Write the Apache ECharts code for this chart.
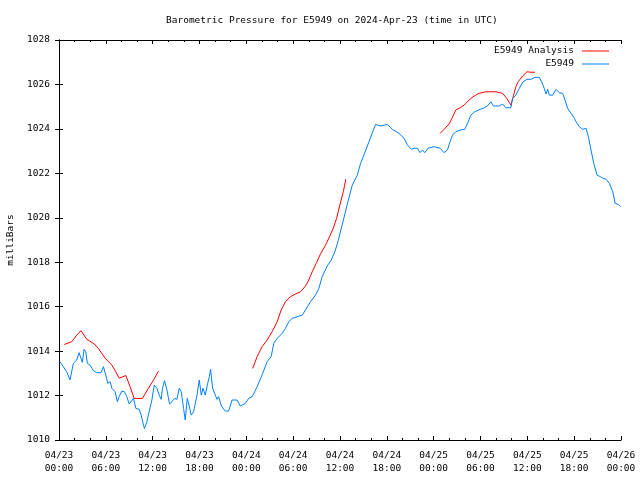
<!DOCTYPE html>
<html>
<head>
<meta charset="utf-8">
<script src="https://cdn.jsdelivr.net/npm/echarts@6/dist/echarts.min.js"></script>
<style>html,body{margin:0;padding:0;background:#fff}#c{width:640px;height:480px}</style>
</head>
<body>
<div id="c"></div>
<script>
// Hours since 2024-04-23 00:00 UTC
const blueHours = [0.13,0.55,0.99,1.41,1.84,2.27,2.57,2.79,2.99,3.21,3.43,3.63,3.98,4.40,4.84,5.39,5.69,5.99,6.25,6.55,6.77,7.19,7.48,7.70,8.05,8.38,8.69,8.99,9.24,9.54,9.85,10.27,10.53,10.82,10.95,11.26,11.55,11.90,12.20,12.54,12.84,13.09,13.26,13.52,13.83,14.16,14.47,14.80,15.11,15.40,15.66,15.96,16.17,16.43,16.69,16.94,17.24,17.46,17.68,17.97,18.23,18.45,18.74,19.00,19.26,19.42,19.68,20.03,20.24,20.45,20.80,21.31,21.73,22.17,22.81,23.23,23.88,24.30,24.74,25.07,25.38,26.02,26.66,27.18,27.51,27.95,28.59,29.01,29.44,29.87,30.51,31.16,31.58,32.22,32.86,33.29,33.72,34.36,34.88,35.34,35.73,36.16,36.59,37.01,37.57,38.22,38.64,39.15,39.71,40.14,40.56,41.21,42.07,42.71,43.56,44.20,44.63,45.15,45.48,45.92,46.25,46.56,46.86,47.28,48.05,48.82,49.33,49.77,50.10,50.41,50.83,51.39,51.99,52.34,52.76,53.27,53.95,54.47,54.90,55.33,55.67,56.39,56.83,57.25,57.89,58.11,58.54,58.96,59.40,59.95,60.46,60.98,61.53,61.84,62.17,62.39,62.61,62.81,63.25,63.67,64.10,64.53,64.83,65.17,65.60,66.02,66.24,66.66,67.10,67.52,67.82,68.16,68.51,68.93,69.36,69.67,70.09,70.51,70.95,71.25,71.67,71.93];
const blueValues = [1013.52,1013.30,1013.07,1012.70,1013.45,1013.60,1013.93,1013.90,1013.50,1014.08,1013.97,1013.45,1013.37,1013.12,1013.03,1013.03,1013.30,1012.93,1012.55,1012.62,1012.33,1012.17,1011.72,1011.95,1012.20,1012.17,1011.95,1011.62,1011.65,1011.87,1011.42,1011.38,1011.12,1010.67,1010.52,1010.82,1011.27,1011.80,1012.47,1012.33,1012.02,1011.83,1012.33,1012.67,1012.25,1011.62,1011.72,1011.87,1011.83,1012.33,1012.17,1011.42,1010.90,1011.87,1011.53,1011.12,1011.27,1011.27,1012.02,1012.70,1012.02,1012.33,1012.02,1012.47,1012.85,1013.18,1012.33,1012.02,1011.83,1011.95,1011.53,1011.30,1011.30,1011.80,1011.80,1011.53,1011.65,1011.87,1011.95,1012.17,1012.40,1012.93,1013.52,1013.75,1014.35,1014.57,1014.80,1015.02,1015.32,1015.47,1015.55,1015.62,1015.85,1016.22,1016.52,1016.82,1017.35,1017.83,1018.10,1018.47,1018.92,1019.52,1020.12,1020.72,1021.47,1021.92,1022.45,1022.90,1023.42,1023.83,1024.20,1024.13,1024.20,1023.98,1023.80,1023.58,1023.28,1023.08,1023.13,1023.13,1022.93,1023.05,1022.93,1023.13,1023.20,1023.13,1022.93,1023.05,1023.42,1023.72,1023.87,1023.95,1023.98,1024.25,1024.62,1024.77,1024.88,1024.95,1025.03,1025.22,1025.03,1025.03,1025.12,1024.95,1024.95,1025.37,1025.52,1025.82,1026.10,1026.23,1026.23,1026.32,1026.32,1026.12,1025.82,1025.57,1025.78,1025.52,1025.52,1025.78,1025.63,1025.60,1025.30,1024.92,1024.70,1024.48,1024.32,1024.10,1023.98,1024.03,1023.65,1023.05,1022.45,1021.92,1021.85,1021.78,1021.73,1021.55,1021.17,1020.65,1020.60,1020.50];

const redHours1 = [0.68,1.63,2.27,2.82,3.56,4.53,5.04,5.91,6.77,7.28,7.70,8.56,9.11,9.63,10.69,11.46,12.11,12.75];
const redValues1 = [1014.30,1014.42,1014.72,1014.92,1014.53,1014.32,1014.12,1013.68,1013.37,1013.07,1012.78,1012.90,1012.40,1011.87,1011.87,1012.33,1012.70,1013.10];
const redHours2 = [24.81,25.38,26.02,26.66,27.30,27.95,28.46,29.01,29.65,30.30,30.94,31.58,32.00,32.44,32.99,33.50,34.15,34.70,35.13,35.56,35.98,36.42,36.75];
const redValues2 = [1013.22,1013.75,1014.20,1014.50,1014.87,1015.32,1015.85,1016.22,1016.45,1016.57,1016.67,1016.93,1017.20,1017.57,1017.98,1018.37,1018.77,1019.18,1019.52,1019.97,1020.57,1021.17,1021.74];
const redHours3 = [48.82,49.33,49.97,50.41,50.83,51.39,51.90,52.54,53.18,53.82,54.69,55.97,56.83,57.38,57.89,58.24,58.54,58.83,59.40,59.95,60.46,60.98];
const redValues3 = [1023.80,1023.98,1024.22,1024.52,1024.85,1024.95,1025.07,1025.30,1025.48,1025.60,1025.67,1025.67,1025.60,1025.37,1025.07,1025.52,1025.90,1026.12,1026.38,1026.57,1026.55,1026.55];

const xTickLabels = ['04/23\n00:00','04/23\n06:00','04/23\n12:00','04/23\n18:00','04/24\n00:00','04/24\n06:00','04/24\n12:00','04/24\n18:00','04/25\n00:00','04/25\n06:00','04/25\n12:00','04/25\n18:00','04/26\n00:00'];
const yTickLabels = ['1010','1012','1014','1016','1018','1020','1022','1024','1026','1028'];

const titleText = 'Barometric Pressure for E5949 on 2024-Apr-23 (time in UTC)';
const yName = 'milliBars';
const redName = 'E5949 Analysis';
const blueName = 'E5949';

function zip(a, b) { return a.map((h, i) => [h, b[i]]); }

const FONT = 'DejaVu Sans Mono';
const FS = 9.5;
const axisLine = { show: true, lineStyle: { color: '#000', width: 1 } };
const tick = { show: true, inside: true, length: 4, lineStyle: { color: '#000' } };
const minor = { show: true, splitNumber: 3, length: 2, lineStyle: { color: '#000' } };

const chart = echarts.init(document.getElementById('c'), null, { renderer: 'canvas' });
const redStyle = { color: '#ff0000', width: 1 };
chart.setOption({
  animation: false,
  backgroundColor: '#ffffff',
  title: {
    text: titleText,
    left: 161, top: 11,
    textStyle: { fontFamily: FONT, fontSize: FS, fontWeight: 'normal', color: '#000' }
  },
  legend: {
    orient: 'vertical',
    right: 26, top: 41,
    align: 'right',
    icon: 'rect',
    itemWidth: 27, itemHeight: 1, itemGap: 3,
    textStyle: { fontFamily: FONT, fontSize: FS, color: '#000', padding: [0, 3, 0, 0] },
    data: [redName, blueName]
  },
  grid: { left: 59, right: 19, top: 40, bottom: 40, containLabel: false, outerBoundsMode: 'none' },
  xAxis: [{
    type: 'value', min: 0, max: 72, interval: 6,
    axisLine: axisLine, axisTick: tick, minorTick: minor,
    splitLine: { show: false },
    axisLabel: {
      fontFamily: FONT, fontSize: FS, color: '#000', margin: 9, lineHeight: 13,
      formatter: v => xTickLabels[Math.round(v / 6)]
    }
  }, {
    type: 'value', min: 0, max: 72, interval: 6, position: 'top',
    axisLine: axisLine, axisTick: tick, minorTick: minor,
    splitLine: { show: false },
    axisLabel: { show: false }
  }],
  yAxis: [{
    type: 'value', min: 1010, max: 1028, interval: 2,
    name: yName, nameLocation: 'middle', nameGap: 43, nameRotate: 90,
    nameTextStyle: { fontFamily: FONT, fontSize: FS, color: '#000' },
    axisLine: axisLine, axisTick: tick,
    splitLine: { show: false },
    axisLabel: {
      fontFamily: FONT, fontSize: FS, color: '#000', margin: 9,
      formatter: v => yTickLabels[Math.round((v - 1010) / 2)]
    }
  }, {
    type: 'value', min: 1010, max: 1028, interval: 2, position: 'right',
    axisLine: axisLine, axisTick: tick,
    splitLine: { show: false },
    axisLabel: { show: false }
  }],
  series: [
    { name: redName, type: 'line', symbol: 'none', data: zip(redHours1, redValues1), lineStyle: redStyle, itemStyle: { color: '#ff0000' } },
    { name: redName, type: 'line', symbol: 'none', data: zip(redHours2, redValues2), lineStyle: redStyle, itemStyle: { color: '#ff0000' } },
    { name: redName, type: 'line', symbol: 'none', data: zip(redHours3, redValues3), lineStyle: redStyle, itemStyle: { color: '#ff0000' } },
    { name: blueName, type: 'line', symbol: 'none', data: zip(blueHours, blueValues), lineStyle: { color: '#0080ff', width: 1 }, itemStyle: { color: '#0080ff' } }
  ]
});
</script>
</body>
</html>
